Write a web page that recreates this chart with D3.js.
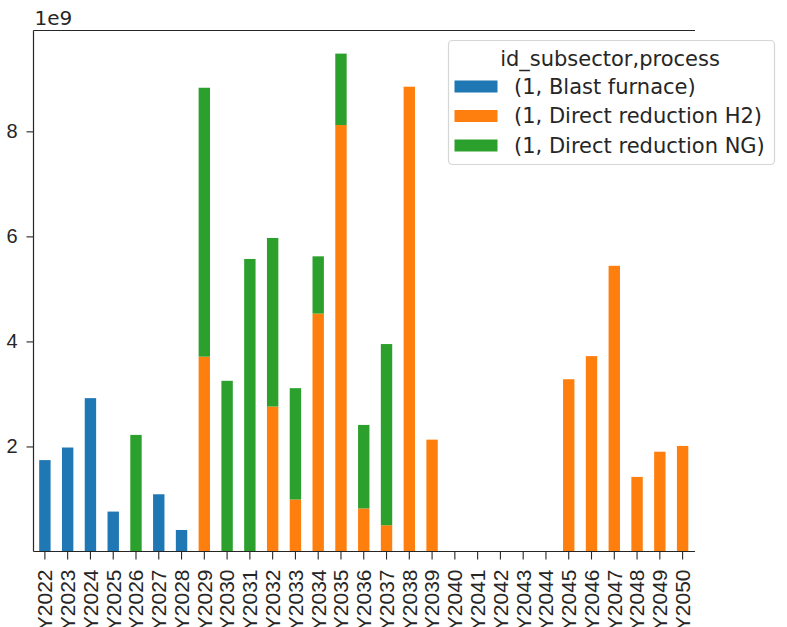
<!DOCTYPE html>
<meta charset="utf-8">
<style>
  body { margin: 0; background: #fff; }
  svg { display: block; font-family: "DejaVu Sans", sans-serif; }
  .tick text { font-size: 20px; fill: #262626; }
  .xtick .tick text { font-size: 21px; }
</style>
<svg width="787" height="627"></svg>
<script src="https://d3js.org/d3.v7.min.js"></script>
<script>
var years = ["Y2022","Y2023","Y2024","Y2025","Y2026","Y2027","Y2028","Y2029","Y2030","Y2031",
             "Y2032","Y2033","Y2034","Y2035","Y2036","Y2037","Y2038","Y2039","Y2040","Y2041",
             "Y2042","Y2043","Y2044","Y2045","Y2046","Y2047","Y2048","Y2049","Y2050"];

// values in units of 1e9
var blastFurnace = [1.74,1.98,2.92,0.76,0,1.09,0.41,0,0,0,
                    0,0,0,0,0,0,0,0,0,0,
                    0,0,0,0,0,0,0,0,0];
var directH2     = [0,0,0,0,0,0,0,3.71,0,0,
                    2.76,0.99,4.53,8.12,0.82,0.50,8.85,2.13,0,0,
                    0,0,0,3.28,3.72,5.44,1.42,1.90,2.01];
var directNG     = [0,0,0,0,2.22,0,0,5.12,3.25,5.57,
                    3.21,2.12,1.09,1.36,1.59,3.45,0,0,0,0,
                    0,0,0,0,0,0,0,0,0];

var seriesNames = ["(1, Blast furnace)", "(1, Direct reduction H2)", "(1, Direct reduction NG)"];
var colors = ["#1f77b4", "#ff7f0e", "#2ca02c"];
var yTicks = [2, 4, 6, 8];

var rows = years.map(function(y, i) {
  return { year: y, s0: blastFurnace[i], s1: directH2[i], s2: directNG[i] };
});

var svg = d3.select("svg");
var mLeft = 33.5, mRight = 694, mTop = 30.5, mBottom = 551.5;

var x = d3.scaleBand().domain(years).range([mLeft, mRight]).paddingInner(0.5).paddingOuter(0.25);
var y = d3.scaleLinear().domain([0, 9.92]).range([mBottom, mTop]);

var stack = d3.stack().keys(["s0", "s1", "s2"]);
var layers = stack(rows);

svg.append("g").selectAll("g")
  .data(layers)
  .enter().append("g")
    .attr("fill", function(d, i) { return colors[i]; })
  .selectAll("rect")
  .data(function(d) { return d; })
  .enter().append("rect")
    .attr("x", function(d) { return x(d.data.year); })
    .attr("width", x.bandwidth())
    .attr("y", function(d) { return y(d[1]); })
    .attr("height", function(d) { return Math.max(0, y(d[0]) - y(d[1])); });

// axes
var xAxis = svg.append("g")
    .attr("class", "xtick")
    .attr("transform", "translate(0," + mBottom + ")")
    .call(d3.axisBottom(x).tickSizeOuter(0).tickSize(8));
xAxis.select(".domain").remove();
xAxis.selectAll(".tick line").attr("stroke", "#262626").attr("stroke-width", 1.1);
xAxis.selectAll(".tick text")
    .attr("transform", "rotate(-90)")
    .attr("text-anchor", "end")
    .attr("x", -18)
    .attr("y", 0)
    .attr("dy", "0.35em");

var yAxis = svg.append("g")
    .attr("transform", "translate(" + mLeft + ",0)")
    .call(d3.axisLeft(y).tickValues(yTicks).tickFormat(d3.format("d")).tickSize(7).tickPadding(9));
yAxis.select(".domain").remove();
yAxis.selectAll(".tick line").attr("stroke", "#262626").attr("stroke-width", 1.1);

// spines: left, top, bottom
svg.append("line").attr("x1", mLeft).attr("x2", mLeft).attr("y1", mTop).attr("y2", mBottom)
    .attr("stroke", "#262626").attr("stroke-width", 1.2);
svg.append("line").attr("x1", mLeft).attr("x2", mRight + 1).attr("y1", mTop).attr("y2", mTop)
    .attr("stroke", "#262626").attr("stroke-width", 1.2);
svg.append("line").attr("x1", mLeft).attr("x2", mRight + 1).attr("y1", mBottom).attr("y2", mBottom)
    .attr("stroke", "#262626").attr("stroke-width", 1.2);

svg.append("text").attr("x", mLeft + 1).attr("y", 25)
    .style("font-size", "20px").attr("fill", "#262626").text("1e9");

// legend
var lg = svg.append("g");
lg.append("rect").attr("x", 448.5).attr("y", 40.5).attr("width", 326).attr("height", 124)
    .attr("rx", 4).attr("fill", "#fff").attr("fill-opacity", 0.8)
    .attr("stroke", "#d6d6d6").attr("stroke-width", 1.2);
lg.append("text").attr("x", 610).attr("y", 58.5).attr("dy", "0.35em")
    .attr("text-anchor", "middle").style("font-size", "21px").attr("fill", "#262626")
    .text("id_subsector,process");
seriesNames.forEach(function(name, i) {
  var cy = 86.5 + i * 29.5;
  lg.append("rect").attr("x", 454.5).attr("y", cy - 6).attr("width", 43).attr("height", 12)
      .attr("fill", colors[i]);
  lg.append("text").attr("x", 514).attr("y", cy).attr("dy", "0.35em")
      .style("font-size", "21px").attr("fill", "#262626").text(name);
});
</script>
